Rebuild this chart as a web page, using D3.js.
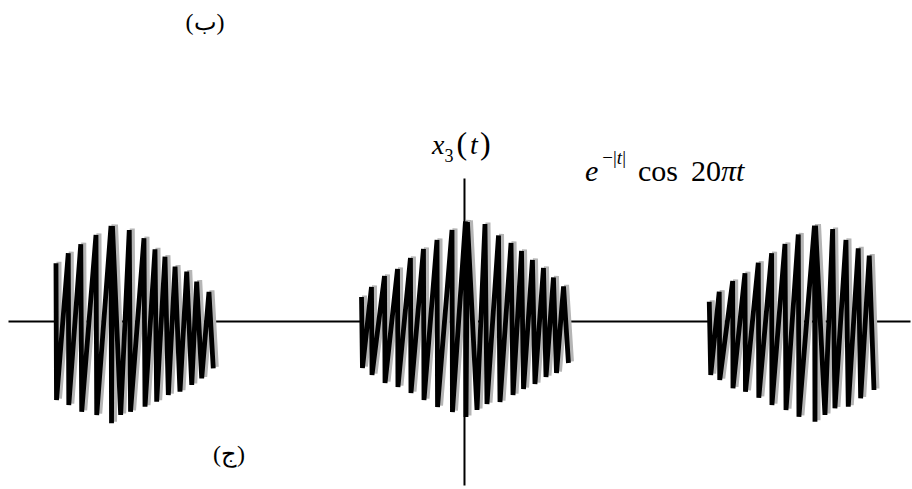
<!DOCTYPE html>
<html>
<head>
<meta charset="utf-8">
<script src="https://cdn.jsdelivr.net/npm/d3@7"></script>
<style>
  body { margin: 0; background: #fff; }
  svg text { font-family: "Liberation Serif", "DejaVu Serif", serif; fill: #000; }
</style>
</head>
<body>
<div id="chart"></div>
<script>
// burst samples: t (time) and value
let leftT = [-3.886, -3.881, -3.769, -3.764, -3.650, -3.641, -3.505, -3.498, -3.362, -3.357,
    -3.348, -3.270, -3.188, -3.176, -3.048, -3.038, -2.943, -2.927, -2.848, -2.816,
    -2.752, -2.705, -2.641, -2.593, -2.546, -2.498, -2.429, -2.388];
let leftV = [0.577, -0.79, 0.677, -0.84, 0.767, -0.907, 0.86, -0.94, 0.95, -1.023,
    0.95, -0.94, 0.91, -0.907, 0.827, -0.857, 0.717, -0.807, 0.643, -0.74,
    0.543, -0.707, 0.493, -0.64, 0.393, -0.573, 0.29, -0.473];

let centerT = [-0.976, -0.967, -0.881, -0.876, -0.757, -0.752, -0.633, -0.629, -0.510, -0.505,
    -0.386, -0.381, -0.257, -0.252, -0.114, -0.110, 0.014, 0.019, 0.033, 0.124,
    0.200, 0.219, 0.329, 0.343, 0.448, 0.467, 0.548, 0.567, 0.652, 0.676,
    0.757, 0.781, 0.852, 0.881, 0.948, 0.995];
let centerV = [0.24, -0.47, 0.34, -0.54, 0.45, -0.62, 0.52, -0.66, 0.63, -0.72,
    0.72, -0.79, 0.81, -0.86, 0.91, -0.91, 0.995, -0.96, 0.99, -0.89,
    0.97, -0.83, 0.855, -0.81, 0.78, -0.74, 0.70, -0.68, 0.61, -0.63,
    0.53, -0.56, 0.435, -0.52, 0.345, -0.42];

let rightT = [2.336, 2.350, 2.431, 2.436, 2.559, 2.562, 2.676, 2.681, 2.803, 2.808,
    2.930, 2.933, 3.057, 3.067, 3.184, 3.190, 3.338, 3.343, 3.348, 3.438,
    3.511, 3.533, 3.638, 3.660, 3.755, 3.778, 3.860, 3.905];
let rightV = [0.193, -0.54, 0.293, -0.59, 0.40, -0.673, 0.477, -0.707, 0.583, -0.767,
    0.677, -0.84, 0.77, -0.89, 0.865, -0.957, 0.953, -1.007, 0.953, -0.94,
    0.92, -0.873, 0.81, -0.857, 0.727, -0.773, 0.653, -0.69];

let svgWidth = 912;
let svgHeight = 489;

let svg = d3.select("#chart")
    .append("svg")
    .attr("width", svgWidth)
    .attr("height", svgHeight)
    .attr("font-family", "'Liberation Serif', 'DejaVu Serif', serif");

// scales
let xScale = d3.scaleLinear()
    .domain([-4.343, 4.248])
    .range([8, 910]);

let yScale = d3.scaleLinear()
    .domain([-1.64, 1.43])
    .range([485, 178]);

// axes: plain lines, no ticks
let bottomAxis = d3.axisBottom(xScale).ticks(0).tickSizeOuter(0);
let leftAxis = d3.axisLeft(yScale).ticks(0).tickSizeOuter(0);

svg.append("g")
    .attr("transform", `translate(0, ${yScale(0)})`)
    .call(bottomAxis);

svg.append("g")
    .attr("transform", `translate(${xScale(0)}, 0)`)
    .call(leftAxis);

svg.selectAll(".domain")
    .attr("stroke", "#000")
    .attr("stroke-width", 2);

// signal bursts
let bursts = [
    d3.zip(leftT, leftV),
    d3.zip(centerT, centerV),
    d3.zip(rightT, rightV)
];

let line = d3.line()
    .x(d => xScale(d[0]))
    .y(d => yScale(d[1]));

// grey shadow under each stroke
svg.append("g")
    .attr("transform", "translate(3, -1.5)")
    .selectAll("path")
    .data(bursts)
    .enter()
    .append("path")
    .attr("d", line)
    .attr("fill", "none")
    .attr("stroke", "#b5b5b5")
    .attr("stroke-width", 5);

svg.append("g")
    .selectAll("path")
    .data(bursts)
    .enter()
    .append("path")
    .attr("d", line)
    .attr("fill", "none")
    .attr("stroke", "#000")
    .attr("stroke-width", 4.8);

// labels
let yLabel = svg.append("text")
    .attr("x", 432)
    .attr("y", 154)
    .style("font-size", "28px");
yLabel.append("tspan").style("font-style", "italic").text("x");
yLabel.append("tspan").attr("dy", 8).style("font-size", "18px").text("3");
yLabel.append("tspan").attr("dy", -8).attr("dx", 3).style("font-size", "32px").text("(");
yLabel.append("tspan").attr("dx", 3).style("font-style", "italic").text("t");
yLabel.append("tspan").attr("dx", 2).style("font-size", "32px").text(")");

let formula = svg.append("text")
    .attr("x", 585)
    .attr("y", 181)
    .style("font-size", "30px");
formula.append("tspan").style("font-style", "italic").text("e");
formula.append("tspan").attr("dy", -17).attr("dx", 4).style("font-size", "19px").text("−|");
formula.append("tspan").style("font-size", "19px").style("font-style", "italic").text("t");
formula.append("tspan").style("font-size", "19px").text("|");
formula.append("tspan").attr("dy", 17).attr("dx", 12).text("cos");
formula.append("tspan").attr("dx", 13).text("20");
formula.append("tspan").style("font-style", "italic").text("πt");

svg.append("text")
    .attr("x", 205)
    .attr("y", 30)
    .attr("text-anchor", "middle")
    .style("font-size", "24px")
    .text("(ب)");

svg.append("text")
    .attr("x", 229)
    .attr("y", 462)
    .attr("text-anchor", "middle")
    .style("font-size", "24px")
    .text("(ج)");
</script>
</body>
</html>
